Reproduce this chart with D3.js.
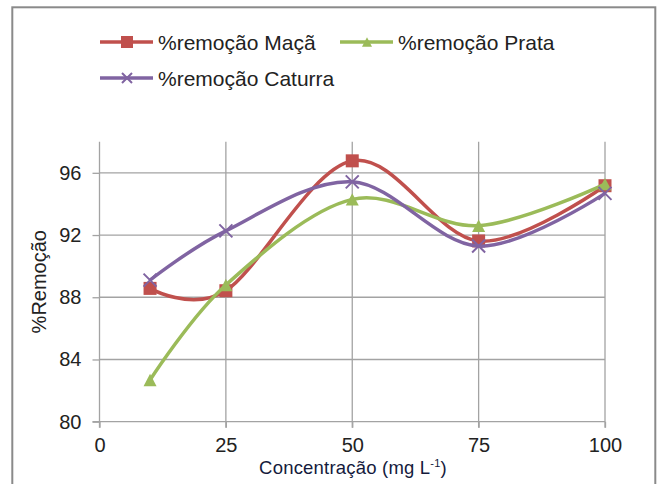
<!DOCTYPE html>
<html><head><meta charset="utf-8">
<script src="https://cdn.jsdelivr.net/npm/d3@7"></script>
<style>html,body{margin:0;padding:0;background:#fff;}svg{display:block;}text{font-family:"Liberation Sans",Arial,sans-serif;}</style>
</head><body>
<script>
const concentrations = [10, 25, 50, 75, 100];
const maca = [88.57, 88.42, 96.77, 91.62, 95.17];
const prata = [82.68, 88.79, 94.29, 92.6, 95.27];
const caturra = [89.1, 92.27, 95.42, 91.29, 94.68];
const seriesNames = ["%remoção Maçã", "%remoção Prata", "%remoção Caturra"];
const xTicks = [0, 25, 50, 75, 100];
const yTicks = [80, 84, 88, 92, 96];

const W = 659, H = 484;
const svg = d3.select("body").append("svg").attr("width", W).attr("height", H);

// outer frame
svg.append("rect").attr("x", 12.3).attr("y", 7.3).attr("width", 643).attr("height", 500)
  .attr("fill", "none").attr("stroke", "#8a8a8a").attr("stroke-width", 2);

const x = d3.scaleLinear().domain([0, 100]).range([99.5, 605]);
const y = d3.scaleLinear().domain([80, 98]).range([421.7, 141.7]);

const gridColor = "#a3a3a3";
// gridlines
svg.append("g").selectAll("line").data(yTicks.filter(d => d > 80)).join("line")
  .attr("x1", x(0)).attr("x2", x(100)).attr("y1", d => y(d)).attr("y2", d => y(d))
  .attr("stroke", gridColor).attr("stroke-width", 1.3);
svg.append("g").selectAll("line").data(xTicks.filter(d => d > 0)).join("line")
  .attr("x1", d => x(d)).attr("x2", d => x(d)).attr("y1", y(98)).attr("y2", y(80) + 6)
  .attr("stroke", gridColor).attr("stroke-width", 1.3);

// axes
const yAxis = svg.append("g").attr("transform", `translate(${x(0)},0)`)
  .call(d3.axisLeft(y).tickValues(yTicks).tickSize(7).tickPadding(11).tickSizeOuter(0));
const xAxis = svg.append("g").attr("transform", `translate(0,${y(80)})`)
  .call(d3.axisBottom(x).tickValues(xTicks).tickSize(6).tickPadding(10).tickSizeOuter(0));
[yAxis, xAxis].forEach(g => {
  g.select(".domain").attr("stroke", gridColor).attr("stroke-width", 1.3);
  g.selectAll(".tick line").attr("stroke", gridColor).attr("stroke-width", 1.3);
  g.selectAll(".tick text").attr("fill", "#222").style("font-size", "20px")
    .style("font-family", '"Liberation Sans",Arial,sans-serif');
});
yAxis.select(".domain").attr("d", `M0,${y(98)}V${y(80) + 6}`);
xAxis.select(".domain").attr("d", `M${-7 + x(0)},0H${x(100)}`);

// axis titles
svg.append("text").attr("transform", `translate(46,${(y(80) + y(98)) / 2}) rotate(-90)`)
  .attr("text-anchor", "middle").style("font-size", "20px").attr("fill", "#222").text("%Remoção");
const xt = svg.append("text").attr("x", 353).attr("y", 474).attr("text-anchor", "middle")
  .style("font-size", "18.5px").attr("fill", "#141a3c").attr("letter-spacing", "0.2px");
xt.append("tspan").text("Concentração (mg L");
xt.append("tspan").attr("dy", -7).style("font-size", "11px").text("-1");
xt.append("tspan").attr("dy", 7).text(")");

const colors = ["#C0504D", "#9BBB59", "#8064A2"];
const allSeries = [maca, prata, caturra];
const line = d3.line().x(d => x(d[0])).y(d => y(d[1])).curve(d3.curveCardinal.tension(0));

function marker(g, kind, cx, cy, s, color) {
  if (kind === 0) {
    g.append("rect").attr("x", cx - s / 2).attr("y", cy - s / 2).attr("width", s).attr("height", s).attr("fill", color);
  } else if (kind === 1) {
    const h = s * 0.95;
    g.append("path").attr("d", `M${cx},${cy - h / 2}L${cx + s / 2},${cy + h / 2}L${cx - s / 2},${cy + h / 2}Z`).attr("fill", color);
  } else {
    const r = s / 2;
    g.append("path").attr("d", `M${cx - r},${cy - r}L${cx + r},${cy + r}M${cx - r},${cy + r}L${cx + r},${cy - r}`)
      .attr("stroke", color).attr("stroke-width", 2).attr("fill", "none");
  }
}

allSeries.forEach((vals, i) => {
  const pts = concentrations.map((c, j) => [c, vals[j]]);
  const g = svg.append("g");
  g.append("path").datum(pts).attr("d", line).attr("fill", "none")
    .attr("stroke", colors[i]).attr("stroke-width", 3.5).attr("stroke-linejoin", "round");
  pts.forEach(p => marker(g, i, x(p[0]), y(p[1]), i === 2 ? 13 : 13, colors[i]));
});

// legend
const legendPos = [[100, 42], [340, 42], [100, 78]];
seriesNames.forEach((name, i) => {
  const [lx, ly] = legendPos[i];
  const g = svg.append("g");
  g.append("line").attr("x1", lx).attr("x2", lx + 53).attr("y1", ly).attr("y2", ly)
    .attr("stroke", colors[i]).attr("stroke-width", 3.5);
  marker(g, i, lx + 27, ly, i === 0 ? 12 : 10, colors[i]);
  g.append("text").attr("x", lx + 58).attr("y", ly).attr("dy", "0.36em")
    .style("font-size", "21px").attr("fill", "#222").text(name);
});
</script>
</body></html>
